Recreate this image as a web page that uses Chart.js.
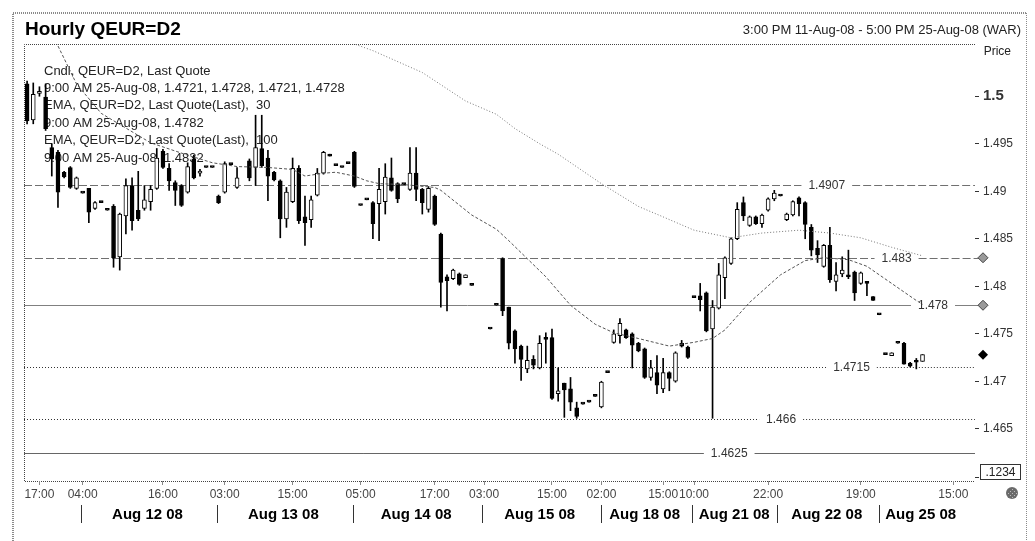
<!DOCTYPE html>
<html>
<head>
<meta charset="utf-8">
<title>Hourly QEUR=D2</title>
<script src="https://cdn.jsdelivr.net/npm/chart.js@4.4.1/dist/chart.umd.min.js"></script>
<style>
    html, body { margin: 0; padding: 0; background: #fff; }
    canvas { display: block; }
</style>
</head>
<body>
<canvas id="candleChart" width="1035" height="541"></canvas>
<script>
// hour slot of each candle (one slot = one hourly bar)
const slots = [0, 1, 2, 3, 4, 5, 6, 7, 8, 9, 10, 11, 12, 13, 14, 15, 16, 17, 18, 19,
    20, 21, 22, 23, 24, 25, 26, 27, 28, 29, 30, 31, 32, 33, 34, 36, 37, 38, 39, 40,
    41, 42, 43, 44, 45, 46, 47, 48, 49, 50, 51, 52, 53, 54, 55, 56, 57, 58, 59, 60,
    61, 62, 63, 64, 65, 66, 67, 68, 69, 70, 71, 72, 75, 76, 77, 78, 79, 80, 81, 82,
    83, 84, 85, 86, 87, 88, 89, 90, 91, 92, 93, 94, 95, 96, 97, 98, 99, 100, 101, 102,
    103, 104, 105, 106, 107, 108, 109, 110, 111, 112, 113, 114, 115, 116, 117, 118, 119, 120, 121, 122,
    123, 124, 125, 126, 127, 128, 129, 130, 131, 132, 133, 134, 135, 136, 137, 138, 139, 140, 141, 142,
    143, 144, 145];
const opens = [1.5013, 1.4975, 1.5003, 1.4999, 1.4946, 1.4941, 1.4920, 1.4925, 1.4903, 1.4898, 1.4903, 1.4882, 1.4888, 1.4880, 1.4884, 1.4831, 1.4874, 1.4906, 1.4880, 1.4882,
    1.4889, 1.4903, 1.4942, 1.4924, 1.4909, 1.4906, 1.4899, 1.4934, 1.4919, 1.4925, 1.4925, 1.4895, 1.4899, 1.4928, 1.4904, 1.4932, 1.4925, 1.4945, 1.4935, 1.4920,
    1.4911, 1.4871, 1.4889, 1.4924, 1.4873, 1.4870, 1.4896, 1.4919, 1.4939, 1.4927, 1.4925, 1.4929, 1.4941, 1.4885, 1.4891, 1.4888, 1.4887, 1.4889, 1.4914, 1.4908,
    1.4907, 1.4902, 1.4919, 1.4902, 1.4881, 1.4895, 1.4855, 1.4810, 1.4808, 1.4813, 1.4809, 1.4801, 1.4755, 1.4780, 1.4829, 1.4778, 1.4753, 1.4737, 1.4713, 1.4723,
    1.4714, 1.4745, 1.4746, 1.4687, 1.4698, 1.4692, 1.4672, 1.4676, 1.4678, 1.4684, 1.4673, 1.4709, 1.4741, 1.4748, 1.4754, 1.4750, 1.4740, 1.4734, 1.4704, 1.4709,
    1.4692, 1.4709, 1.4700, 1.4740, 1.4736, 1.4788, 1.4790, 1.4793, 1.4755, 1.4777, 1.4809, 1.4824, 1.4850, 1.4888, 1.4864, 1.4873, 1.4866, 1.4880, 1.4892, 1.4895,
    1.4870, 1.4875, 1.4893, 1.4888, 1.4862, 1.4840, 1.4821, 1.4843, 1.4805, 1.4813, 1.4811, 1.4815, 1.4803, 1.4804, 1.4789, 1.4770, 1.4728, 1.4727, 1.4740, 1.4740,
    1.4719, 1.4722, 1.4721];
const highs = [1.5016, 1.5014, 1.5010, 1.5013, 1.4950, 1.4943, 1.4921, 1.4926, 1.4915, 1.4898, 1.4903, 1.4889, 1.4888, 1.4880, 1.4886, 1.4877, 1.4913, 1.4914, 1.4921, 1.4906,
    1.4906, 1.4945, 1.4944, 1.4929, 1.4911, 1.4907, 1.4930, 1.4938, 1.4923, 1.4925, 1.4925, 1.4896, 1.4931, 1.4928, 1.4925, 1.4934, 1.4980, 1.4980, 1.4943, 1.4921,
    1.4912, 1.4904, 1.4935, 1.4927, 1.4895, 1.4895, 1.4924, 1.4942, 1.4939, 1.4927, 1.4925, 1.4929, 1.4942, 1.4885, 1.4891, 1.4889, 1.4924, 1.4929, 1.4935, 1.4909,
    1.4907, 1.4946, 1.4946, 1.4903, 1.4905, 1.4896, 1.4856, 1.4812, 1.4818, 1.4814, 1.4812, 1.4801, 1.4755, 1.4780, 1.4830, 1.4778, 1.4754, 1.4738, 1.4737, 1.4727,
    1.4748, 1.4751, 1.4755, 1.4714, 1.4698, 1.4704, 1.4678, 1.4676, 1.4678, 1.4684, 1.4700, 1.4709, 1.4754, 1.4766, 1.4755, 1.4751, 1.4741, 1.4735, 1.4722, 1.4727,
    1.4724, 1.4710, 1.4731, 1.4743, 1.4737, 1.4788, 1.4803, 1.4794, 1.4785, 1.4824, 1.4831, 1.4851, 1.4888, 1.4894, 1.4874, 1.4874, 1.4876, 1.4893, 1.4901, 1.4895,
    1.4877, 1.4890, 1.4894, 1.4889, 1.4865, 1.4848, 1.4844, 1.4862, 1.4825, 1.4831, 1.4838, 1.4816, 1.4815, 1.4805, 1.4789, 1.4770, 1.4728, 1.4730, 1.4740, 1.4741,
    1.4720, 1.4724, 1.4728];
const lows = [1.4971, 1.4971, 1.5000, 1.4964, 1.4916, 1.4883, 1.4914, 1.4903, 1.4902, 1.4898, 1.4867, 1.4881, 1.4888, 1.4880, 1.4820, 1.4817, 1.4855, 1.4859, 1.4869, 1.4880,
    1.4880, 1.4902, 1.4924, 1.4901, 1.4885, 1.4884, 1.4898, 1.4913, 1.4916, 1.4925, 1.4925, 1.4887, 1.4898, 1.4928, 1.4903, 1.4911, 1.4906, 1.4925, 1.4890, 1.4911,
    1.4851, 1.4862, 1.4888, 1.4866, 1.4843, 1.4862, 1.4895, 1.4918, 1.4937, 1.4927, 1.4925, 1.4929, 1.4904, 1.4885, 1.4891, 1.4850, 1.4848, 1.4876, 1.4900, 1.4888,
    1.4907, 1.4901, 1.4890, 1.4876, 1.4878, 1.4864, 1.4778, 1.4774, 1.4807, 1.4801, 1.4809, 1.4801, 1.4755, 1.4780, 1.4769, 1.4734, 1.4719, 1.4701, 1.4709, 1.4713,
    1.4713, 1.4719, 1.4681, 1.4679, 1.4662, 1.4669, 1.4661, 1.4676, 1.4678, 1.4684, 1.4672, 1.4709, 1.4740, 1.4740, 1.4745, 1.4714, 1.4731, 1.4703, 1.4701, 1.4687,
    1.4688, 1.4690, 1.4699, 1.4736, 1.4724, 1.4788, 1.4774, 1.4752, 1.4661, 1.4776, 1.4787, 1.4823, 1.4849, 1.4869, 1.4863, 1.4865, 1.4862, 1.4879, 1.4890, 1.4895,
    1.4869, 1.4874, 1.4874, 1.4850, 1.4832, 1.4825, 1.4820, 1.4804, 1.4795, 1.4810, 1.4808, 1.4785, 1.4802, 1.4790, 1.4785, 1.4770, 1.4728, 1.4727, 1.4740, 1.4718,
    1.4715, 1.4713, 1.4721];
const closes = [1.4974, 1.5002, 1.5005, 1.4966, 1.4934, 1.4899, 1.4915, 1.4904, 1.4914, 1.4898, 1.4878, 1.4888, 1.4888, 1.4880, 1.4830, 1.4876, 1.4906, 1.4869, 1.4871, 1.4891,
    1.4902, 1.4935, 1.4925, 1.4911, 1.4901, 1.4885, 1.4926, 1.4914, 1.4921, 1.4925, 1.4925, 1.4888, 1.4929, 1.4928, 1.4914, 1.4914, 1.4946, 1.4927, 1.4916, 1.4912,
    1.4871, 1.4899, 1.4924, 1.4869, 1.4867, 1.4891, 1.4919, 1.4941, 1.4937, 1.4927, 1.4925, 1.4929, 1.4905, 1.4885, 1.4891, 1.4866, 1.4902, 1.4915, 1.4901, 1.4892,
    1.4907, 1.4919, 1.4902, 1.4888, 1.4903, 1.4865, 1.4804, 1.4806, 1.4817, 1.4802, 1.4812, 1.4801, 1.4755, 1.4780, 1.4774, 1.4740, 1.4734, 1.4723, 1.4722, 1.4717,
    1.4740, 1.4744, 1.4682, 1.4690, 1.4691, 1.4678, 1.4663, 1.4676, 1.4678, 1.4684, 1.4699, 1.4709, 1.4750, 1.4761, 1.4746, 1.4738, 1.4732, 1.4704, 1.4714, 1.4696,
    1.4709, 1.4703, 1.4730, 1.4737, 1.4725, 1.4788, 1.4786, 1.4753, 1.4778, 1.4812, 1.4830, 1.4850, 1.4881, 1.4874, 1.4873, 1.4866, 1.4875, 1.4892, 1.4898, 1.4895,
    1.4876, 1.4889, 1.4887, 1.4865, 1.4838, 1.4833, 1.4843, 1.4807, 1.4812, 1.4817, 1.4810, 1.4793, 1.4814, 1.4803, 1.4785, 1.4770, 1.4728, 1.4730, 1.4740, 1.4718,
    1.4716, 1.4720, 1.4728];

// EMA lines (read at a few slots)
const ema30Slots = [0, 5, 8, 12, 20, 26, 30, 34, 39, 43, 45, 48, 50, 53, 55, 57, 61, 66, 67, 72,
    76, 78, 81, 84, 88, 92, 95, 99, 104, 108, 111, 113, 117, 122, 126, 129, 133, 136, 140, 144, 145];
const ema30Values = [1.5113, 1.5053, 1.5013, 1.4982, 1.4951, 1.4938, 1.4930, 1.4926, 1.4925, 1.4923, 1.4916, 1.4919, 1.4920, 1.4916, 1.4911, 1.4908, 1.4907, 1.4904, 1.4901, 1.4875,
    1.4860, 1.4848, 1.4829, 1.4810, 1.4780, 1.4760, 1.4751, 1.4745, 1.4737, 1.4741, 1.4745, 1.4754, 1.4783, 1.4812, 1.4827, 1.4830, 1.4828, 1.4821, 1.4803, 1.4785, 1.4781];
const ema100Slots = [50, 53, 56, 64, 71, 76, 79, 83, 86, 93, 99, 103, 108, 114, 119, 125, 130, 135, 140, 145];
const ema100Values = [1.5062, 1.5055, 1.5048, 1.5025, 1.4995, 1.4981, 1.4966, 1.4950, 1.4939, 1.4908, 1.4884, 1.4873, 1.4859, 1.4851, 1.4856, 1.4859, 1.4856, 1.4851, 1.4841, 1.4832];

// axis labels
const priceTicks = [1.465, 1.47, 1.475, 1.48, 1.485, 1.49, 1.495, 1.5];
const timeTickSlots = [2, 9, 22, 32, 43, 54, 66, 74, 85, 93, 103, 108, 120, 135, 150];
const timeTickText = ['17:00', '04:00', '16:00', '03:00', '15:00', '05:00', '17:00', '03:00', '15:00', '02:00', '15:00', '10:00', '22:00', '19:00', '15:00'];
const dayLabelSlots = [19.5, 41.5, 63, 83, 100, 114.5, 129.5, 144.7];
const dayLabelText = ['Aug 12 08', 'Aug 13 08', 'Aug 14 08', 'Aug 15 08', 'Aug 18 08', 'Aug 21 08', 'Aug 22 08', 'Aug 25 08'];
const dayBreakSlots = [8.7, 30.7, 52.7, 73.6, 93, 107.6, 121.4, 138];

// horizontal levels
const levelValues = [1.4907, 1.483, 1.478, 1.4715, 1.466, 1.4625];
const levelText = ['1.4907', '1.483', '1.478', '1.4715', '1.466', '1.4625'];

const legendLines = [
    'Cndl, QEUR=D2, Last Quote',
    '9:00 AM 25-Aug-08, 1.4721, 1.4728, 1.4721, 1.4728',
    'EMA, QEUR=D2, Last Quote(Last),  30',
    '9:00 AM 25-Aug-08, 1.4782',
    'EMA, QEUR=D2, Last Quote(Last),  100',
    '9:00 AM 25-Aug-08, 1.4832'
];

const FONT = '"Liberation Sans", Arial, sans-serif';
const X_MIN = -0.5;
const X_MAX = 153.5;

// level line look (not data)
const levelLabelAt = [129.5, 140.8, 146.7, 133.5, 122.1, 113.7];
const levelDash = [[8, 3], [8, 3], [], [1, 2], [1, 2], []];
const levelColor = ['#707070', '#707070', '#808080', '#333', '#333', '#666'];
const levelToMarker = [false, true, true, false, false, false];

function diamond(ctx, x, y, r) {
    ctx.beginPath();
    ctx.moveTo(x, y - r);
    ctx.lineTo(x + r, y);
    ctx.lineTo(x, y + r);
    ctx.lineTo(x - r, y);
    ctx.closePath();
}

const decor = {
    id: 'decor',
    beforeDraw(chart) {
        const ctx = chart.ctx;
        const area = chart.chartArea;
        ctx.save();
        ctx.fillStyle = '#fff';
        ctx.fillRect(0, 0, chart.width, chart.height);

        // outer frame
        ctx.strokeStyle = '#8a8a8a';
        ctx.lineWidth = 2;
        ctx.setLineDash([1, 1]);
        ctx.beginPath();
        ctx.moveTo(13, chart.height);
        ctx.lineTo(13, 13);
        ctx.lineTo(1026, 13);
        ctx.stroke();
        ctx.lineWidth = 1;
        ctx.beginPath();
        ctx.moveTo(1026.5, 13);
        ctx.lineTo(1026.5, chart.height);
        ctx.stroke();

        // plot frame
        ctx.strokeStyle = '#444';
        ctx.beginPath();
        ctx.moveTo(area.right, area.top + 0.5);
        ctx.lineTo(area.left + 0.5, area.top + 0.5);
        ctx.lineTo(area.left + 0.5, area.bottom + 0.5);
        ctx.lineTo(area.right, area.bottom + 0.5);
        ctx.stroke();
        ctx.setLineDash([]);

        // titles
        ctx.fillStyle = '#000';
        ctx.textBaseline = 'alphabetic';
        ctx.textAlign = 'left';
        ctx.font = 'bold 19px ' + FONT;
        ctx.fillText('Hourly QEUR=D2', 25, 35);
        ctx.font = '13px ' + FONT;
        ctx.fillStyle = '#222';
        ctx.textAlign = 'right';
        ctx.fillText('3:00 PM 11-Aug-08 - 5:00 PM 25-Aug-08 (WAR)', 1021, 34);
        ctx.font = '12px ' + FONT;
        ctx.fillText('Price', 1011, 55);
        ctx.restore();
    },
    beforeDatasetsDraw(chart) {
        const ctx = chart.ctx;
        const area = chart.chartArea;
        const xs = chart.scales.x;
        const ys = chart.scales.y;
        ctx.save();

        // legend text sits under the candles
        ctx.fillStyle = '#222';
        ctx.font = '13px ' + FONT;
        ctx.textAlign = 'left';
        ctx.textBaseline = 'middle';
        legendLines.forEach((t, i) => ctx.fillText(t, 44, 71 + i * 17.4));

        // reference levels with their labels
        ctx.font = '12px ' + FONT;
        ctx.textAlign = 'center';
        levelValues.forEach((v, i) => {
            const y = Math.round(ys.getPixelForValue(v)) + 0.5;
            const cx = xs.getPixelForValue(levelLabelAt[i]);
            const w = ctx.measureText(levelText[i]).width;
            const end = levelToMarker[i] ? area.right + 4 : area.right;
            ctx.strokeStyle = levelColor[i];
            ctx.lineWidth = 1;
            ctx.setLineDash(levelDash[i]);
            ctx.beginPath();
            ctx.moveTo(area.left, y);
            ctx.lineTo(cx - w / 2 - 7, y);
            ctx.moveTo(cx + w / 2 + 7, y);
            ctx.lineTo(end, y);
            ctx.stroke();
            ctx.setLineDash([]);
            ctx.fillStyle = '#333';
            ctx.fillText(levelText[i], cx, y);
        });
        ctx.restore();
    },
    afterDraw(chart) {
        const ctx = chart.ctx;
        const area = chart.chartArea;
        const ys = chart.scales.y;
        const x2 = chart.scales.x2;
        ctx.save();

        // markers on the price axis
        const mx = area.right + 8;
        [1.483, 1.478].forEach((v) => {
            const y = ys.getPixelForValue(v);
            diamond(ctx, mx, y, 5);
            ctx.fillStyle = '#9a9a9a';
            ctx.fill();
            ctx.strokeStyle = '#444';
            ctx.lineWidth = 1;
            ctx.stroke();
        });
        diamond(ctx, mx, ys.getPixelForValue(closes[closes.length - 1]), 5);
        ctx.fillStyle = '#000';
        ctx.fill();

        // scale format box
        ctx.strokeStyle = '#333';
        ctx.strokeRect(980.5, 464.5, 40, 15);
        ctx.beginPath();
        ctx.moveTo(975, 477.5);
        ctx.lineTo(979, 477.5);
        ctx.stroke();
        ctx.fillStyle = '#222';
        ctx.font = '12px ' + FONT;
        ctx.textAlign = 'center';
        ctx.textBaseline = 'middle';
        ctx.fillText('.1234', 1000.5, 472.5);

        // little round button
        ctx.beginPath();
        ctx.arc(1012, 493, 6, 0, Math.PI * 2);
        ctx.fillStyle = '#6a6a6a';
        ctx.fill();
        ctx.fillStyle = '#bbb';
        for (let dy = -4; dy <= 4; dy += 2) {
            for (let dx = -4; dx <= 4; dx += 2) {
                if ((dx + dy) % 4 === 0 && dx * dx + dy * dy < 30) ctx.fillRect(1012 + dx, 493 + dy, 1, 1);
            }
        }

        // day separators
        ctx.strokeStyle = '#333';
        ctx.lineWidth = 1;
        dayBreakSlots.forEach((s) => {
            const x = Math.round(x2.getPixelForValue(s)) + 0.5;
            ctx.beginPath();
            ctx.moveTo(x, x2.top + 2);
            ctx.lineTo(x, x2.top + 20);
            ctx.stroke();
        });
        ctx.restore();
    }
};

function renderChart() {
    const ctx = document.getElementById('candleChart').getContext('2d');
    new Chart(ctx, {
        type: 'bar',
        data: {
            datasets: [{
                type: 'line',
                label: 'EMA 30',
                data: ema30Slots.map((s, i) => ({ x: s, y: ema30Values[i] })),
                borderColor: '#555',
                borderWidth: 1,
                borderDash: [3, 2],
                pointRadius: 0,
                order: 0
            }, {
                type: 'line',
                label: 'EMA 100',
                data: ema100Slots.map((s, i) => ({ x: s, y: ema100Values[i] })),
                borderColor: '#777',
                borderWidth: 1,
                borderDash: [1, 2],
                pointRadius: 0,
                order: 0
            }, {
                label: 'Body',
                data: slots.map((s, i) => ({ x: s, y: [opens[i], closes[i]] })),
                backgroundColor: (c) => closes[c.dataIndex] > opens[c.dataIndex] ? '#fff' : '#000',
                borderColor: '#000',
                borderWidth: 1,
                borderSkipped: false,
                barThickness: 4,
                minBarLength: 2,
                grouped: false,
                order: 1
            }, {
                label: 'Wick',
                data: slots.map((s, i) => ({ x: s, y: [lows[i], highs[i]] })),
                backgroundColor: '#000',
                barThickness: 1,
                grouped: false,
                order: 2
            }]
        },
        options: {
            responsive: false,
            animation: false,
            events: [],
            layout: { padding: { left: 24, top: 44, right: 8, bottom: 12 } },
            plugins: {
                legend: { display: false },
                tooltip: { enabled: false }
            },
            scales: {
                x: {
                    type: 'linear',
                    min: X_MIN,
                    max: X_MAX,
                    offset: false,
                    weight: 0,
                    afterBuildTicks: (scale) => { scale.ticks = timeTickSlots.map((v) => ({ value: v })); },
                    afterFit: (scale) => { scale.height = 22; },
                    border: { display: false },
                    grid: { offset: false, drawOnChartArea: false, tickLength: 4, color: '#888' },
                    ticks: {
                        autoSkip: false,
                        maxRotation: 0,
                        padding: 2,
                        color: '#444',
                        font: { family: FONT, size: 12 },
                        callback: (v, i) => timeTickText[i]
                    }
                },
                x2: {
                    type: 'linear',
                    position: 'bottom',
                    min: X_MIN,
                    max: X_MAX,
                    offset: false,
                    weight: 1,
                    afterBuildTicks: (scale) => { scale.ticks = dayLabelSlots.map((v) => ({ value: v })); },
                    afterFit: (scale) => { scale.height = 26; },
                    border: { display: false },
                    grid: { display: false, drawTicks: false },
                    ticks: {
                        autoSkip: false,
                        maxRotation: 0,
                        padding: 3,
                        color: '#000',
                        font: { family: FONT, size: 15, weight: 'bold' },
                        callback: (v, i) => dayLabelText[i]
                    }
                },
                y: {
                    position: 'right',
                    min: 1.4595,
                    max: 1.5055,
                    beginAtZero: false,
                    afterBuildTicks: (scale) => { scale.ticks = priceTicks.map((v) => ({ value: v })); },
                    afterFit: (scale) => { scale.width = 52; },
                    border: { display: false },
                    grid: { drawOnChartArea: false, tickLength: 4, color: '#333' },
                    ticks: {
                        padding: 4,
                        color: '#333',
                        font: (c) => (c.tick && c.tick.value === 1.5)
                            ? { family: FONT, size: 15, weight: 'bold' }
                            : { family: FONT, size: 12 },
                        callback: (v) => String(v)
                    }
                }
            }
        },
        plugins: [decor]
    });
}

renderChart();
</script>
</body>
</html>
